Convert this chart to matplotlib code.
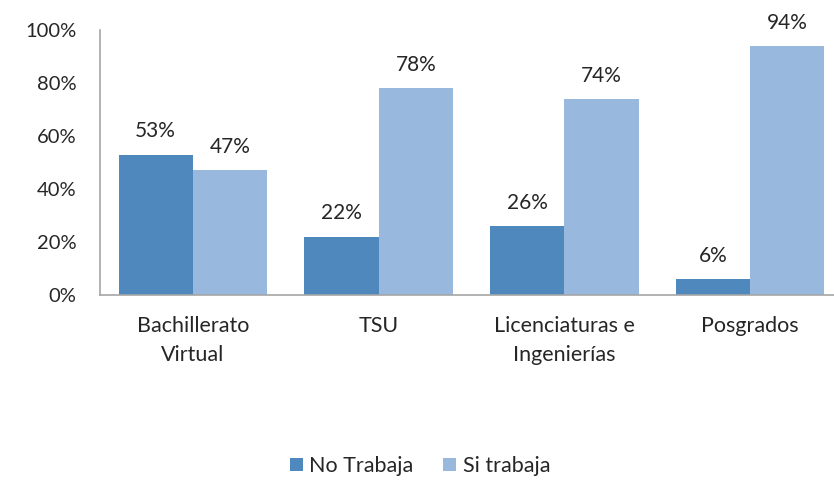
import matplotlib
matplotlib.use('Agg')
import matplotlib.pyplot as plt
import numpy as np

plt.rcParams['font.family'] = ['Lato', 'DejaVu Sans']

# data
categories = ['Bachillerato\nVirtual', 'TSU', 'Licenciaturas e\nIngenierías', 'Posgrados']
no_trabaja = [53, 22, 26, 6]
si_trabaja = [47, 78, 74, 94]
series_names = ['No Trabaja', 'Si trabaja']

dark_blue = '#4F88BC'
light_blue = '#98B8DE'
axis_grey = '#A6A6A6'
text_col = '#262626'

fig = plt.figure(figsize=(8.34, 4.82), dpi=100)
# plot area is a bit wider than the picture (right side cropped in reference)
ax = fig.add_axes([100 / 834, 1 - 295 / 482, 743 / 834, 265 / 482])

x = np.arange(len(categories))
w = 0.40
b1 = ax.bar(x - w / 2, no_trabaja, w, color=dark_blue, label=series_names[0])
b2 = ax.bar(x + w / 2, si_trabaja, w, color=light_blue, label=series_names[1])

for bars, vals in ((b1, no_trabaja), (b2, si_trabaja)):
    for rect, v in zip(bars, vals):
        ax.text(rect.get_x() + rect.get_width() / 2, v + 5, f'{v}%',
                ha='center', va='bottom', fontsize=15, color=text_col)

ax.set_xlim(-0.5, 3.5)
ax.set_ylim(0, 100)
ax.set_yticks(range(0, 101, 20))
ax.set_yticklabels([f'{t}%' for t in range(0, 101, 20)], fontsize=14.5, color=text_col)
ax.set_xticks(x)
ax.set_xticklabels(categories, fontsize=15.5, color=text_col, linespacing=1.6)
ax.tick_params(axis='both', length=0)
ax.tick_params(axis='y', pad=17)
ax.tick_params(axis='x', pad=15)

for s in ('top', 'right'):
    ax.spines[s].set_visible(False)
for s in ('left', 'bottom'):
    ax.spines[s].set_color(axis_grey)
    ax.spines[s].set_linewidth(1.2)

fig.legend(handles=[b1, b2], labels=series_names, loc='center',
           bbox_to_anchor=(420 / 834, 1 - 466 / 482), ncol=2, frameon=False,
           fontsize=15.5, handlelength=0.6, handleheight=0.6, handletextpad=0.3,
           columnspacing=1.4, labelcolor=text_col)

fig.savefig('out.png', dpi=100)
